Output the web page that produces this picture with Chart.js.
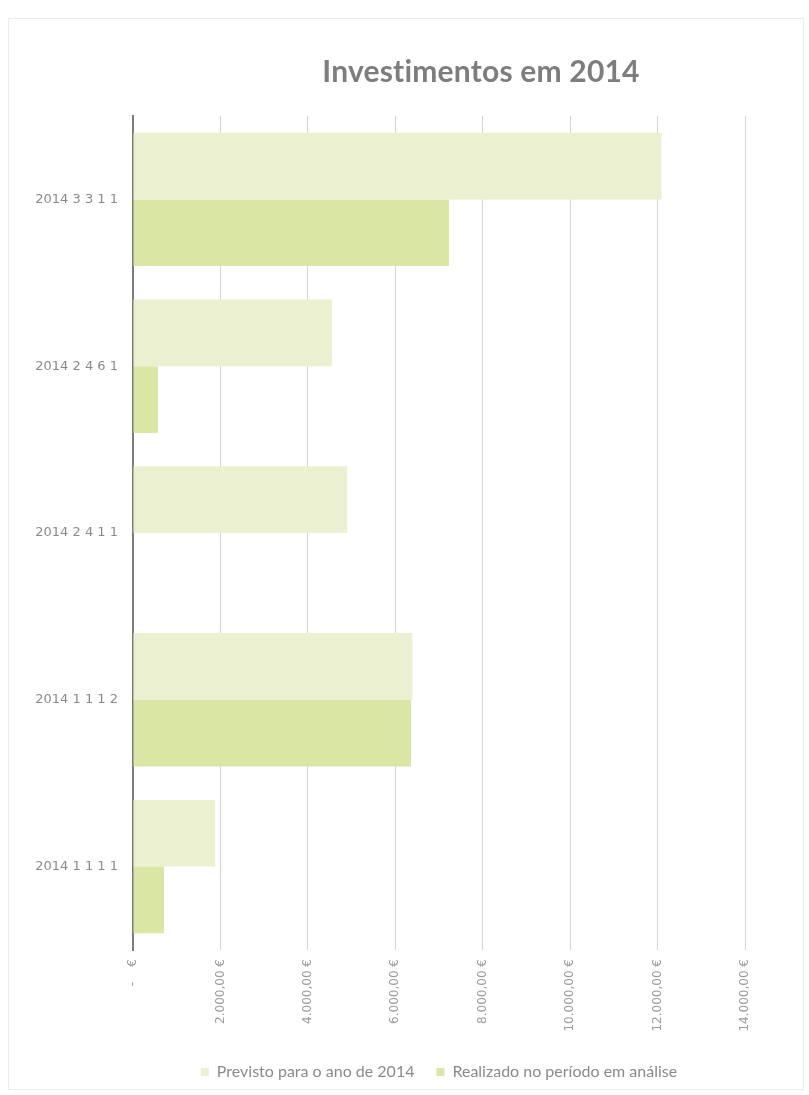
<!DOCTYPE html>
<html lang="pt">
<head>
<meta charset="utf-8">
<title>Investimentos em 2014</title>
<script src="https://cdn.jsdelivr.net/npm/chart.js@4.4.1/dist/chart.umd.min.js"></script>
<style>
  html,body{margin:0;padding:0;background:#fff;overflow:hidden;}
  #wrap{position:relative;width:809px;height:1095px;}
  #frame{position:absolute;left:8px;top:18px;width:796px;height:1072px;border:1px solid #ececec;box-sizing:border-box;}
  #title{position:absolute;top:52px;left:0;width:962px;text-align:center;
    font:700 30px Lato,'Open Sans',sans-serif;color:#7d7d7d;letter-spacing:.2px;}
  #chart{position:absolute;left:0;top:0;}
</style>
</head>
<body>
<div id="wrap">
  <div id="frame"></div>
  <canvas id="chart" width="809" height="1095"></canvas>
  <div id="title">Investimentos em 2014</div>
</div>
<script>
/* ── DATA ── */
const categories = ['2014 3 3 1 1', '2014 2 4 6 1', '2014 2 4 1 1', '2014 1 1 1 2', '2014 1 1 1 1'];
const previsto   = [12090, 4550, 4900, 6390, 1880];
const realizado  = [7230, 570, 0, 6360, 710];
const seriesNames = ['Previsto para o ano de 2014', 'Realizado no período em análise'];
const xTicks = [0, 2000, 4000, 6000, 8000, 10000, 12000, 14000];

/* ── FORMAT ── */
function euro(v){
  if(v === 0) return '-    €';
  const s = Math.round(v).toString().replace(/\B(?=(\d{3})+(?!\d))/g, '.');
  return s + ',00 €';
}

/* ── CHART ── */
new Chart(document.getElementById('chart'), {
  type: 'bar',
  data: {
    labels: categories,
    datasets: [
      { label: seriesNames[0], data: previsto,  backgroundColor: '#ebf1d0', borderWidth: 0,
        categoryPercentage: .8, barPercentage: 1 },
      { label: seriesNames[1], data: realizado, backgroundColor: '#dae6a3', borderWidth: 0,
        categoryPercentage: .8, barPercentage: 1 }
    ]
  },
  options: {
    indexAxis: 'y',
    responsive: false,
    animation: false,
    layout: { padding: { top: 116, right: 64, bottom: 5, left: 0 } },
    scales: {
      x: {
        min: xTicks[0], max: xTicks[xTicks.length - 1],
        afterBuildTicks: s => { s.ticks = xTicks.map(v => ({ value: v })); },
        afterFit: s => { s.height = 92; },
        grid: { color: '#d6d3d6', lineWidth: 1, drawTicks: false },
        border: { display: false },
        ticks: {
          minRotation: 90, maxRotation: 90, padding: 9,
          color: '#9a9a9a', font: { family: "'DejaVu Sans', sans-serif", size: 12 },
          callback: v => euro(v)
        }
      },
      y: {
        afterFit: s => { s.width = 133; },
        grid: { display: false },
        border: { display: true, color: '#7c7c7c', width: 2 },
        ticks: {
          padding: 7, color: '#8a8a8a',
          font: { family: "'DejaVu Sans', sans-serif", size: 13 }
        }
      }
    },
    plugins: {
      title: { display: false },
      tooltip: { enabled: false },
      legend: {
        position: 'bottom',
        fullSize: false,
        labels: {
          boxWidth: 8, boxHeight: 8, padding: 22,
          color: '#8a8a8a',
          font: { family: "Lato, 'Open Sans', sans-serif", size: 16 }
        }
      }
    }
  }
});
</script>
</body>
</html>
